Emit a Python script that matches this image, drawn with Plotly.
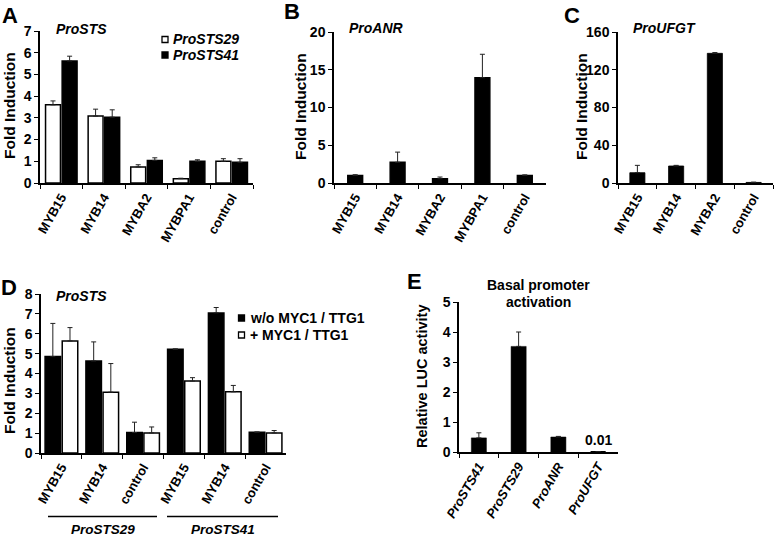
import plotly.graph_objects as go

W, H = 775, 537

# ---------------- data ----------------
a_cats = ["MYB15", "MYB14", "MYBA2", "MYBPA1", "control"]
a_sts29 = [3.6, 3.08, 0.74, 0.2, 1.0]
a_sts29_err = [0.18, 0.32, 0.1, 0.02, 0.12]
a_sts41 = [5.62, 3.03, 1.04, 1.0, 0.95]
a_sts41_err = [0.22, 0.34, 0.12, 0.07, 0.17]

b_cats = ["MYB15", "MYB14", "MYBA2", "MYBPA1", "control"]
b_vals = [1.0, 2.74, 0.57, 13.95, 1.0]
b_err = [0.1, 1.35, 0.22, 3.1, 0.08]

c_cats = ["MYB15", "MYB14", "MYBA2", "control"]
c_vals = [10.9, 18.0, 137.4, 0.6]
c_err = [7.8, 0.7, 0.8, 0.3]

d_cats = ["MYB15 ", "MYB14 ", "control ", "MYB15", "MYB14", "control"]
d_labels = ["MYB15", "MYB14", "control", "MYB15", "MYB14", "control"]
d_wo = [4.85, 4.63, 1.03, 5.22, 7.05, 1.04]
d_wo_err = [1.67, 0.96, 0.52, 0.02, 0.27, 0.02]
d_plus = [5.64, 3.06, 1.01, 3.62, 3.08, 1.01]
d_plus_err = [0.67, 1.44, 0.3, 0.17, 0.32, 0.12]
d_groups = ["ProSTS29", "ProSTS41"]

e_cats = ["ProSTS41", "ProSTS29", "ProANR", "ProUFGT"]
e_vals = [0.47, 3.52, 0.5, 0.01]
e_err = [0.17, 0.48, 0.02, 0.0]

FONT = "Liberation Sans, Arial, sans-serif"


def px(x):
    return x / W


def py(y):
    return 1 - y / H


fig = go.Figure()


def err(arr):
    return dict(type="data", array=arr, arrayminus=[0] * len(arr), symmetric=False,
                color="#222", thickness=1, width=2.5)


def bar(x, y, e, fill, ax, offset, width, lw=1.5):
    fig.add_trace(go.Bar(
        x=x, y=y, error_y=err(e), xaxis=ax[0], yaxis=ax[1],
        marker=dict(color=fill, line=dict(color="black", width=lw)),
        offset=offset, width=width, showlegend=False, hoverinfo="x+y"))


# A
bar(a_cats, a_sts29, a_sts29_err, "white", ("x", "y"), -0.37, 0.35)
bar(a_cats, a_sts41, a_sts41_err, "black", ("x", "y"), 0.02, 0.35)
# B
bar(b_cats, b_vals, b_err, "black", ("x2", "y2"), -0.175, 0.35)
# C
bar(c_cats, c_vals, c_err, "black", ("x3", "y3"), -0.195, 0.39, lw=0.8)
# D
bar(d_cats, d_wo, d_wo_err, "black", ("x4", "y4"), -0.4, 0.38)
bar(d_cats, d_plus, d_plus_err, "white", ("x4", "y4"), 0.02, 0.38)
# E
bar(e_cats, e_vals, e_err, "black", ("x5", "y5"), -0.19, 0.38, lw=[0.5, 0.5, 0.5, 0])

panels = [
    # name, cats, x0, x1, ytop, ybot, ymax, ticks, ticktext
    ("", a_cats, 40, 253, 31, 183, 7, list(range(0, 8)), None),
    ("2", b_cats, 334, 546, 32, 183, 20, [0, 5, 10, 15, 20], None),
    ("3", c_cats, 618, 773, 32, 183, 160, [0, 40, 80, 120, 160], None),
    ("4", d_cats, 41, 286, 294, 453, 8, list(range(0, 9)), d_labels),
    ("5", e_cats, 459, 618, 302, 452, 5, list(range(0, 6)), None),
]

for name, cats, x0, x1, yt, yb, ymax, ticks, ttext in panels:
    xa = dict(
        type="category", categoryorder="array", categoryarray=cats,
        range=[-0.5, len(cats) - 0.5], domain=[px(x0), px(x1)],
        anchor="y" + name, showline=True, linecolor="black", linewidth=1.5,
        ticks="outside", tickson="boundaries", ticklen=4, tickwidth=1.2,
        tickcolor="black", tickangle=-60, showgrid=False, automargin=False,
        tickfont=dict(family=FONT, size=13, color="black", weight="bold",
                      style="italic" if name == "5" else "normal"),
    )
    if ttext is not None:
        xa["tickmode"] = "array"
        xa["tickvals"] = cats
        xa["ticktext"] = ttext
    ya = dict(
        range=[0, ymax], domain=[py(yb), py(yt)], anchor="x" + name,
        showline=True, linecolor="black", linewidth=1.5, ticks="outside",
        ticklen=4, tickwidth=1.2, tickcolor="black", tickvals=ticks,
        showgrid=False, zeroline=False, automargin=False,
        tickfont=dict(family=FONT, size=14, color="black", weight="bold"),
    )
    fig.layout["xaxis" + name] = xa
    fig.layout["yaxis" + name] = ya

ann = []


def text(x, y, s, size=14, italic=False, angle=0, xanchor="center", yanchor="middle"):
    ann.append(dict(x=px(x), y=py(y), xref="paper", yref="paper", text=s,
                    showarrow=False, textangle=angle, xanchor=xanchor, yanchor=yanchor,
                    font=dict(family=FONT, size=size, color="black", weight="bold",
                              style="italic" if italic else "normal")))


# panel letters
for L, x, y in [("A", 10, 16), ("B", 292, 12), ("C", 572, 15), ("D", 9, 287), ("E", 414, 281)]:
    text(x, y, L, size=22)

# subtitles
text(54, 29, "ProSTS", italic=True, xanchor="left")
text(347, 28, "ProANR", italic=True, xanchor="left")
text(631, 28, "ProUFGT", italic=True, xanchor="left")
text(54, 296, "ProSTS", italic=True, xanchor="left")

# y axis titles
text(9, 106, "Fold Induction", size=15.5, angle=-90)
text(300, 107, "Fold Induction", size=15.5, angle=-90)
text(581, 107, "Fold Induction", size=15.5, angle=-90)
text(9, 381, "Fold Induction", size=15.5, angle=-90)
text(422, 377, "Relative LUC activity", size=14.5, angle=-90)

# E title
text(538, 285, "Basal promoter")
text(538, 302, "activation")

# E value label
ann.append(dict(x="ProUFGT", y=0.01, xref="x5", yref="y5", text="0.01", showarrow=False,
                yanchor="bottom", yshift=2,
                font=dict(family=FONT, size=14, color="black", weight="bold")))

# Legend squares
shapes = []


def square(x, y, s, fill):
    shapes.append(dict(type="rect", xref="paper", yref="paper",
                       x0=px(x - s / 2), x1=px(x + s / 2), y0=py(y + s / 2), y1=py(y - s / 2),
                       fillcolor=fill, line=dict(color="black", width=1.3)))


square(165, 39.5, 6, "white")
text(171, 39, "ProSTS29", italic=True, xanchor="left")
square(165, 55, 6, "black")
text(171, 55, "ProSTS41", italic=True, xanchor="left")

square(241.5, 318, 6, "black")
text(248, 318, "w/o MYC1 / TTG1", xanchor="left")
square(241.5, 335, 6, "white")
text(248, 335, "+ MYC1 / TTG1", xanchor="left")

# D group lines + labels
for (lx0, lx1), g in zip([(48, 157), (167, 278)], d_groups):
    shapes.append(dict(type="line", xref="paper", yref="paper", x0=px(lx0), x1=px(lx1),
                       y0=py(516.5), y1=py(516.5), line=dict(color="black", width=1.3)))
    text((lx0 + lx1) / 2, 529, g, size=13.5, italic=True)

fig.update_layout(
    width=W, height=H, margin=dict(l=0, r=0, t=0, b=0),
    paper_bgcolor="white", plot_bgcolor="white", barmode="overlay",
    annotations=ann, shapes=shapes, showlegend=False,
    font=dict(family=FONT, color="black"),
)

# remove the default 8px page margin so the figure fills the window exactly
fig.write_html("out.html", config={"displayModeBar": False},
               post_script="document.body.style.margin='0';")
